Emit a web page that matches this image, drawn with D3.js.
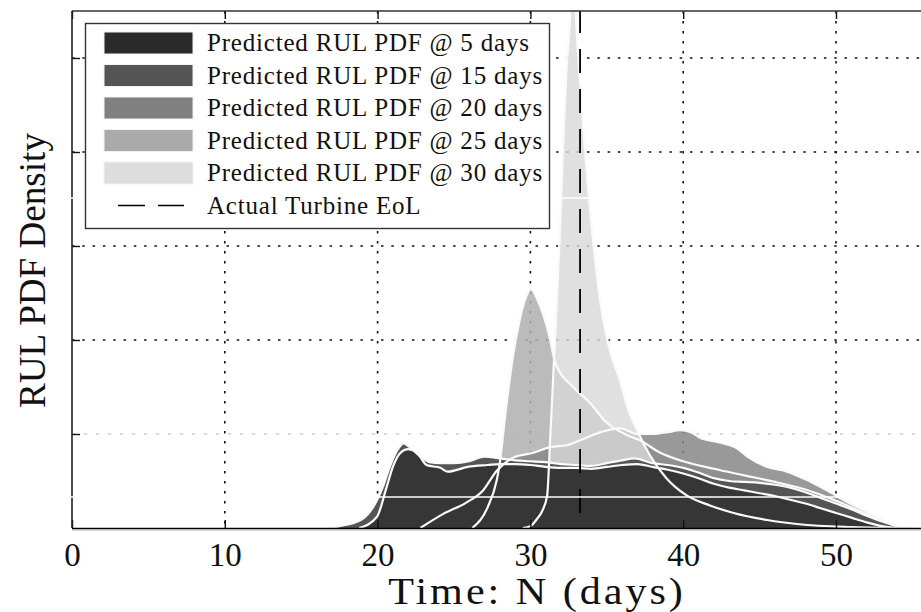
<!DOCTYPE html>
<html>
<head>
<meta charset="utf-8">
<script src="https://cdn.jsdelivr.net/npm/d3@7"></script>
<style>
  body { margin: 0; background: #fff; }
  text { font-family: "Liberation Serif", "Times New Roman", serif; fill: #111; }
</style>
</head>
<body>
<svg id="chart" width="921" height="612"></svg>
<script>
// RUL densities (day, density)
const t5 = [18.8, 19.96, 20.6, 21.0, 21.5, 22.0, 22.6, 23.2, 24.1, 24.6, 25.9, 27.2, 28, 29, 30, 31, 32, 33, 34, 35,
            36, 37, 38, 39, 40, 41, 42, 43, 44, 45, 46, 47, 48, 49, 50, 51, 52, 53, 54];
const pdf5 = [0, 0.012, 0.044, 0.065, 0.080, 0.084, 0.080, 0.067, 0.064, 0.060, 0.065, 0.067, 0.068, 0.068, 0.067, 0.065, 0.064, 0.064, 0.063, 0.065,
              0.067, 0.068, 0.065, 0.062, 0.058, 0.053, 0.047, 0.043, 0.040, 0.037, 0.034, 0.030, 0.026, 0.021, 0.016, 0.011, 0.006, 0.002, 0];

const t15 = [16.8, 17.5, 18.9, 19.7, 20.35, 20.8, 21.3, 21.7, 22.1, 22.8, 23.4, 24.1, 25, 26, 27, 28, 29, 30, 31, 32,
             33, 34, 35, 36, 36.8, 38, 39, 40, 41, 42, 43, 44, 45, 46, 47, 48, 49, 50, 51, 52, 53, 54, 55];
const pdf15 = [0, 0.002, 0.0085, 0.022, 0.044, 0.065, 0.083, 0.090, 0.086, 0.076, 0.070, 0.069, 0.069, 0.071, 0.076, 0.074, 0.072, 0.071, 0.070, 0.068,
               0.067, 0.066, 0.069, 0.072, 0.074, 0.069, 0.067, 0.064, 0.059, 0.053, 0.050, 0.049, 0.048, 0.046, 0.043, 0.038, 0.032, 0.026, 0.020, 0.013, 0.007, 0.002, 0];

const t20 = [22.8, 24.3, 25.8, 26.9, 27.8, 28.9, 30.2, 31.3, 32.4, 33.5, 34.6, 35.9, 37, 38, 39, 39.8, 40.5, 41.1, 42.4, 43.5,
             44.2, 45.5, 46.8, 48.1, 49.4, 50.7, 51.8, 53.1, 54.2, 55.2];
const pdf20 = [0, 0.015, 0.027, 0.040, 0.061, 0.075, 0.080, 0.086, 0.088, 0.095, 0.102, 0.106, 0.100, 0.100, 0.102, 0.104, 0.102, 0.096, 0.091, 0.085,
               0.076, 0.065, 0.060, 0.051, 0.040, 0.028, 0.019, 0.0085, 0.001, 0];

const t25 = [26.2, 27.2, 27.8, 28.0, 28.34, 28.8, 29.3, 29.7, 30.05, 30.4, 30.8, 31.3, 31.6, 31.75, 32.8, 33.9, 35.0, 36.3, 37.2, 38.5,
             40, 42, 44, 46, 48, 50, 52, 53.5, 55];
const pdf25 = [0, 0.022, 0.051, 0.069, 0.118, 0.176, 0.221, 0.245, 0.254, 0.245, 0.229, 0.200, 0.177, 0.171, 0.150, 0.133, 0.112, 0.099, 0.093, 0.080,
               0.071, 0.063, 0.056, 0.049, 0.041, 0.029, 0.015, 0.005, 0];

const t30 = [29.5, 30.0, 30.4, 30.8, 31.1, 31.28, 31.48, 31.94, 32.13, 32.33, 32.59, 32.75, 32.98, 33.1, 33.25, 33.57, 34.03, 34.55, 35.2, 35.86,
             36.4, 36.98, 37.8, 38.9, 40.2, 41.75, 43.3, 45.5, 47.6, 51, 54];
const pdf30 = [0, 0.002, 0.009, 0.019, 0.035, 0.090, 0.157, 0.317, 0.402, 0.477, 0.540, 0.600, 0.545, 0.508, 0.477, 0.402, 0.317, 0.243, 0.189, 0.157,
               0.126, 0.104, 0.078, 0.053, 0.035, 0.024, 0.016, 0.0085, 0.004, 0.001, 0];

const labels = ["Predicted RUL PDF @ 5 days", "Predicted RUL PDF @ 15 days", "Predicted RUL PDF @ 20 days",
                "Predicted RUL PDF @ 25 days", "Predicted RUL PDF @ 30 days"];
const eolLabel = "Actual Turbine EoL";
const eolDay = 33.25;
const xTicks = [0, 10, 20, 30, 40, 50];
const yTicks = [0.1, 0.2, 0.3, 0.4, 0.5];
const seams = [0.033, 0.351]; // white raster seams visible in the original

// styles
const fillColors = ["#363636", "#555555", "#878787", "#afafaf", "#d8d8d8"];
const fillOpacity = [1, 1, 0.85, 0.85, 0.8];
const legendColors = ["#2b2b2b", "#555555", "#808080", "#aaaaaa", "#dddddd"];
const drawOrder = [3, 2, 4, 1, 0];

const series = [[t5, pdf5], [t15, pdf15], [t20, pdf20], [t25, pdf25], [t30, pdf30]]
    .map(([t, p]) => t.map((d, i) => [d, p[i]]));

const width = 921, height = 612;
const margin = {top: 12, left: 72, bottom: 528};

const x = d3.scaleLinear().domain([0, 60]).range([margin.left, margin.left + 60 * 15.28]);
const y = d3.scaleLinear().domain([0, 0.55]).range([margin.bottom, 11]);

const svg = d3.select("#chart");
svg.append("rect").attr("width", width).attr("height", height).attr("fill", "#fff");

svg.append("defs").append("clipPath").attr("id", "plot")
    .append("rect")
    .attr("x", x(0)).attr("y", y(0.55))
    .attr("width", x(60) - x(0)).attr("height", y(0) - y(0.55));

const plot = svg.append("g").attr("clip-path", "url(#plot)");

// grid
plot.append("g").selectAll("line")
    .data(xTicks.slice(1))
    .join("line")
    .attr("x1", d => x(d)).attr("x2", d => x(d))
    .attr("y1", y(0.55)).attr("y2", y(0))
    .attr("stroke", "#111").attr("stroke-width", 1.6)
    .attr("stroke-dasharray", "2.5,7.5");

plot.append("g").selectAll("line")
    .data(yTicks)
    .join("line")
    .attr("x1", x(0)).attr("x2", x(60))
    .attr("y1", d => y(d)).attr("y2", d => y(d))
    .attr("stroke", d => d === 0.1 ? "#b4b4b4" : "#111")
    .attr("stroke-width", d => d === 0.1 ? 1 : 1.6)
    .attr("stroke-dasharray", d => d === 0.1 ? "3,9" : "2.5,7.8");

// areas
const area = d3.area()
    .x(d => x(d[0]))
    .y0(y(0))
    .y1(d => y(d[1]))
    .curve(d3.curveMonotoneX);

const line = d3.line()
    .x(d => x(d[0]))
    .y(d => y(d[1]))
    .curve(d3.curveMonotoneX);

plot.append("g").selectAll("path")
    .data(drawOrder)
    .join("path")
    .attr("d", i => area(series[i]))
    .attr("fill", i => fillColors[i])
    .attr("fill-opacity", i => fillOpacity[i]);

plot.append("g").selectAll("path")
    .data(drawOrder)
    .join("path")
    .attr("d", i => line(series[i]))
    .attr("fill", "none")
    .attr("stroke", "#fafafa")
    .attr("stroke-width", 2.2)
    .attr("stroke-linejoin", "round");

// actual end of life
plot.append("line")
    .attr("x1", x(eolDay)).attr("x2", x(eolDay))
    .attr("y1", y(0.55)).attr("y2", y(0))
    .attr("stroke", "#000").attr("stroke-width", 1.8)
    .attr("stroke-dasharray", "24,16")
    .attr("stroke-dashoffset", 2);

// axes
const xAxis = g => g
    .attr("transform", `translate(0,${y(0)})`)
    .call(d3.axisBottom(x).tickValues(xTicks).tickSize(-8).tickPadding(15).tickFormat(d3.format("d")))
    .call(g => g.select(".domain").remove())
    .call(g => g.selectAll(".tick line").attr("stroke", "#111").attr("stroke-width", 1.4))
    .call(g => g.selectAll("text").attr("font-size", 33).attr("font-family", "Liberation Serif").attr("fill", "#111"));

const xTop = g => g
    .attr("transform", `translate(0,${y(0.55)})`)
    .call(d3.axisTop(x).tickValues(xTicks).tickSize(-8).tickFormat(""))
    .call(g => g.select(".domain").remove())
    .call(g => g.selectAll(".tick line").attr("stroke", "#111").attr("stroke-width", 1.4));

const yAxis = g => g
    .attr("transform", `translate(${x(0)},0)`)
    .call(d3.axisLeft(y).tickValues(yTicks).tickSize(-8).tickFormat(""))
    .call(g => g.select(".domain").remove())
    .call(g => g.selectAll(".tick line").attr("stroke", "#111").attr("stroke-width", 1.4));

svg.append("g").call(xAxis);
svg.append("g").call(xTop);
svg.append("g").call(yAxis);

// spines
svg.append("line")
    .attr("x1", x(0)).attr("x2", width).attr("y1", y(0.55)).attr("y2", y(0.55))
    .attr("stroke", "#333").attr("stroke-width", 1.6);
svg.append("line")
    .attr("x1", x(0)).attr("x2", x(0)).attr("y1", y(0.55)).attr("y2", y(0))
    .attr("stroke", "#222").attr("stroke-width", 1.6);
svg.append("line")
    .attr("x1", x(0)).attr("x2", width).attr("y1", y(0) + 0.5).attr("y2", y(0) + 0.5)
    .attr("stroke", "#000").attr("stroke-width", 1.6);
svg.append("line")
    .attr("x1", x(0)).attr("x2", width).attr("y1", y(0) + 2).attr("y2", y(0) + 2)
    .attr("stroke", "#aaa").attr("stroke-width", 1);

svg.append("g").selectAll("line")
    .data(seams)
    .join("line")
    .attr("x1", x(0) - 1).attr("x2", width)
    .attr("y1", d => y(d)).attr("y2", d => y(d))
    .attr("stroke", "#fff").attr("stroke-width", 1.5);

// axis titles
svg.append("text")
    .attr("transform", "translate(537,604) scale(1.14,1)")
    .attr("text-anchor", "middle")
    .attr("font-size", 37)
    .attr("letter-spacing", 2.6)
    .text("Time: N (days)");

svg.append("text")
    .attr("transform", "translate(45,408) rotate(-90)")
    .attr("font-size", 37)
    .attr("textLength", 275)
    .attr("lengthAdjust", "spacingAndGlyphs")
    .text("RUL PDF Density");

// legend
const legend = svg.append("g");
legend.append("rect")
    .attr("x", 85.5).attr("y", 23.5)
    .attr("width", 464).attr("height", 205)
    .attr("fill", "#fff").attr("stroke", "#333").attr("stroke-width", 1.4);

const rowY = i => 43 + i * 32.5;

legend.selectAll(".patch")
    .data(labels)
    .join("rect")
    .attr("class", "patch")
    .attr("x", 104).attr("y", (d, i) => rowY(i) - 11)
    .attr("width", 89).attr("height", 22)
    .attr("fill", (d, i) => legendColors[i])
    .attr("stroke", "#f2f2f2").attr("stroke-width", 1);

legend.selectAll(".lab")
    .data(labels.concat([eolLabel]))
    .join("text")
    .attr("class", "lab")
    .attr("x", 207).attr("y", (d, i) => rowY(i) + 8)
    .attr("font-size", 25)
    .attr("letter-spacing", 0.8)
    .text(d => d);

legend.append("line")
    .attr("x1", 118).attr("x2", 184)
    .attr("y1", rowY(5)).attr("y2", rowY(5))
    .attr("stroke", "#000").attr("stroke-width", 1.6)
    .attr("stroke-dasharray", "27,13");
</script>
</body>
</html>
